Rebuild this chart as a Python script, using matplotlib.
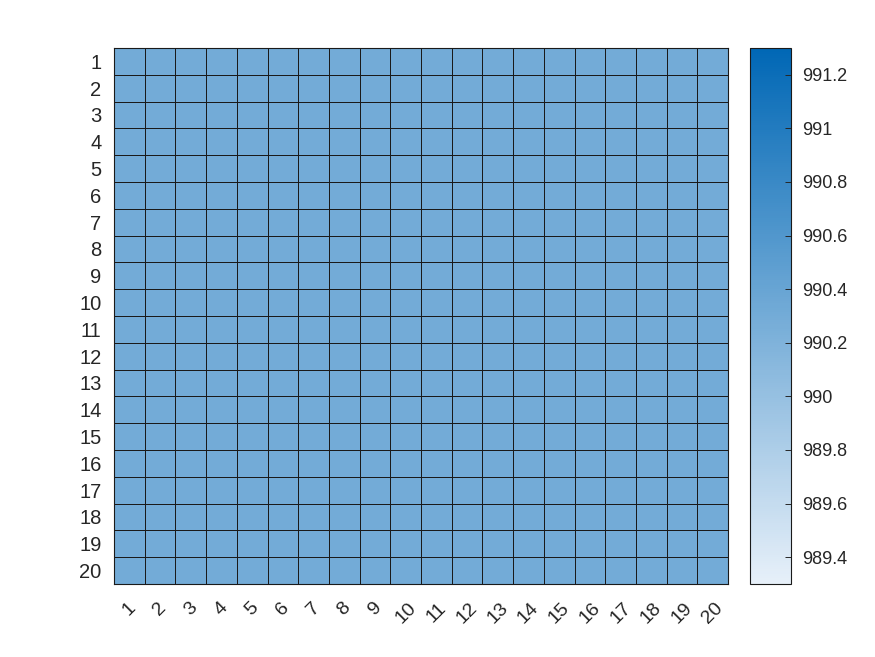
import numpy as np
import matplotlib
matplotlib.use("Agg")
import matplotlib.pyplot as plt
from matplotlib.colors import LinearSegmentedColormap

# every cell of the grid holds the same reading
row_labels = [str(i) for i in range(1, 21)]
col_labels = [str(i) for i in range(1, 21)]
cell_value = 990.3
values = [[cell_value] * len(col_labels) for _ in row_labels]
color_limits = [989.3, 991.3]
cbar_ticks = [989.4, 989.6, 989.8, 990.0, 990.2, 990.4, 990.6, 990.8, 991.0, 991.2]
cbar_ticklabels = ["989.4", "989.6", "989.8", "990", "990.2", "990.4", "990.6", "990.8", "991", "991.2"]

plt.rcParams["font.family"] = ["Liberation Sans", "DejaVu Sans"]
text_color = "#262626"

cmap = LinearSegmentedColormap.from_list("matlab_blue", ["#E7F0F9", "#0067B5"])

fig = plt.figure(figsize=(8.75, 6.57), dpi=100)
W, H = 875, 657
ax = fig.add_axes([114 / W, 1 - 584 / H, (728 - 114) / W, (584 - 48) / H])
cax = fig.add_axes([750 / W, 1 - 584 / H, (791 - 750) / W, (584 - 48) / H])

data = np.array(values)
mesh = ax.pcolormesh(data, cmap=cmap, vmin=color_limits[0], vmax=color_limits[1],
                     edgecolors="#1a1a1a", linewidth=0.7)
ax.set_xlim(0, len(col_labels))
ax.set_ylim(len(row_labels), 0)

ax.set_xticks(np.arange(len(col_labels)) + 0.5)
ax.set_xticklabels(col_labels, rotation=45, ha="center", fontsize=14, color=text_color)
ax.set_yticks(np.arange(len(row_labels)) + 0.5)
ax.set_yticklabels(row_labels, fontsize=14.5, color=text_color)
ax.tick_params(axis="x", length=0, pad=11)
ax.tick_params(axis="y", length=0, pad=9)
for s in ax.spines.values():
    s.set_color("#1a1a1a")
    s.set_linewidth(0.8)

cb = fig.colorbar(mesh, cax=cax)
cb.set_ticks(cbar_ticks)
cb.set_ticklabels(cbar_ticklabels)
cax.tick_params(direction="in", length=4, width=0.7, labelsize=13, colors=text_color, pad=8)
cb.outline.set_edgecolor("#1a1a1a")
cb.outline.set_linewidth(0.8)

fig.savefig("out.png", dpi=100)
